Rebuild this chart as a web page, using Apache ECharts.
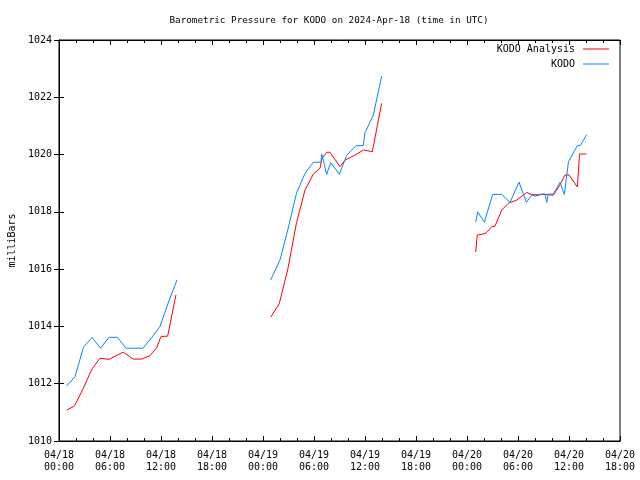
<!DOCTYPE html>
<html>
<head>
<meta charset="utf-8">
<script src="https://cdn.jsdelivr.net/npm/echarts@6/dist/echarts.min.js"></script>
<style>html,body{margin:0;padding:0;background:#fff}#c{width:640px;height:480px}</style>
</head>
<body>
<div id="c"></div>
<script>
// hours since 2024-04-18 00:00 UTC
const xTickLabels = ['04/18\n00:00','04/18\n06:00','04/18\n12:00','04/18\n18:00','04/19\n00:00','04/19\n06:00','04/19\n12:00','04/19\n18:00','04/20\n00:00','04/20\n06:00','04/20\n12:00','04/20\n18:00'];

const obsHours1 = [0.88,1.88,2.88,3.88,4.88,5.88,6.88,7.88,8.88,9.88,10.88,11.88,12.88,13.88];
const obsVals1  = [1011.92,1012.24,1013.27,1013.62,1013.24,1013.62,1013.62,1013.24,1013.24,1013.24,1013.6,1014.0,1014.85,1015.62];
const obsHours2 = [24.9,26.0,26.94,27.94,28.94,29.92,30.82,30.9,31.1,31.49,31.96,32.98,33.85,34.94,35.8,36.0,36.98,37.96];
const obsVals2  = [1015.62,1016.32,1017.4,1018.65,1019.34,1019.73,1019.73,1020.02,1019.8,1019.31,1019.72,1019.31,1019.98,1020.31,1020.31,1020.76,1021.38,1022.74];
const obsHours3 = [49.02,49.26,50.04,51.02,52.08,53.06,54.12,54.98,55.65,57.18,57.38,57.56,58.15,58.94,59.45,59.94,61.0,61.35,62.08];
const obsVals3  = [1017.64,1018.0,1017.64,1018.61,1018.61,1018.33,1019.04,1018.33,1018.6,1018.62,1018.33,1018.62,1018.62,1019.03,1018.61,1019.75,1020.32,1020.32,1020.7];

const anaHours1 = [0.9,1.82,2.86,3.85,4.82,5.88,6.86,7.56,8.74,9.73,10.7,11.49,12.0,12.78,13.76];
const anaVals1  = [1011.08,1011.22,1011.84,1012.5,1012.89,1012.85,1013.0,1013.1,1012.86,1012.86,1012.98,1013.25,1013.65,1013.66,1015.1];
const anaHours2 = [24.9,25.92,26.92,27.93,28.94,29.94,30.71,30.94,31.49,31.88,33.06,33.65,34.82,35.82,36.86,37.96];
const anaVals2  = [1014.32,1014.8,1016.0,1017.6,1018.76,1019.33,1019.52,1019.87,1020.08,1020.08,1019.58,1019.81,1019.98,1020.16,1020.1,1021.79];
const anaHours3 = [49.02,49.21,49.8,50.2,50.91,51.29,52.08,52.86,53.85,54.62,55.02,56.0,56.9,58.15,58.94,59.53,60.0,60.98,61.24,62.06];
const anaVals3  = [1016.6,1017.19,1017.22,1017.25,1017.48,1017.5,1018.06,1018.3,1018.41,1018.59,1018.68,1018.55,1018.62,1018.58,1018.94,1019.29,1019.29,1018.87,1020.02,1020.02];

const RED = '#ff0000', BLUE = '#0a84ff';
const FONT = 'DejaVu Sans Mono';
const pair = (h, v) => h.map((x, i) => [x, v[i]]);

function mk(name, color, h, v) {
  return { name, type: 'line', data: pair(h, v), showSymbol: false, symbol: 'none',
    lineStyle: { color, width: 1 }, itemStyle: { color }, animation: false, silent: true };
}

const xCommon = { type: 'value', min: 0, max: 66, interval: 6,
  axisLine: { show: true, lineStyle: { color: '#000', width: 1 } },
  axisTick: { show: true, inside: true, length: 5, lineStyle: { color: '#000' } },
  minorTick: { show: true, splitNumber: 3, length: 3, lineStyle: { color: '#000' } },
  splitLine: { show: false } };
const yCommon = { type: 'value', min: 1010, max: 1024, interval: 2,
  axisLine: { show: true, lineStyle: { color: '#000', width: 1 } },
  axisTick: { show: true, inside: true, length: 5, lineStyle: { color: '#000' } },
  splitLine: { show: false } };

const chart = echarts.init(document.getElementById('c'), null, { renderer: 'canvas' });
chart.setOption({
  backgroundColor: '#fff',
  animation: false,
  title: { text: 'Barometric Pressure for KODO on 2024-Apr-18 (time in UTC)', left: 324, textAlign: 'center', top: 11,
    textStyle: { fontFamily: FONT, fontSize: 9.3, fontWeight: 'normal', color: '#000' } },
  legend: { data: ['KODO Analysis', 'KODO'], orient: 'vertical', right: 31, top: 43, align: 'right', padding: 0,
    icon: 'rect', itemWidth: 26, itemHeight: 1, itemGap: 3,
    textStyle: { fontFamily: FONT, fontSize: 10, color: '#000', lineHeight: 12, padding: [0, 3, 0, 0] } },
  grid: { left: 59, right: 20, top: 40, bottom: 39, show: true, borderColor: '#000', borderWidth: 1,
    containLabel: false, outerBoundsMode: 'none' },
  xAxis: [
    Object.assign({}, xCommon, { position: 'bottom',
      axisLabel: { show: true, showMinLabel: true, showMaxLabel: true, margin: 8, fontFamily: FONT, fontSize: 10, color: '#000', lineHeight: 12,
        formatter: v => xTickLabels[Math.round(v / 6)] } }),
    Object.assign({}, xCommon, { position: 'top', axisLabel: { show: false } })
  ],
  yAxis: [
    Object.assign({}, yCommon, { position: 'left', name: 'milliBars', nameLocation: 'middle', nameRotate: 90, nameGap: 41,
      nameTextStyle: { fontFamily: FONT, fontSize: 10, color: '#000' },
      axisLabel: { show: true, margin: 7, fontFamily: FONT, fontSize: 10, color: '#000', formatter: v => String(v) } }),
    Object.assign({}, yCommon, { position: 'right', axisLabel: { show: false } })
  ],
  series: [
    mk('KODO Analysis', RED, anaHours1, anaVals1),
    mk('KODO Analysis', RED, anaHours2, anaVals2),
    mk('KODO Analysis', RED, anaHours3, anaVals3),
    mk('KODO', BLUE, obsHours1, obsVals1),
    mk('KODO', BLUE, obsHours2, obsVals2),
    mk('KODO', BLUE, obsHours3, obsVals3)
  ]
});
</script>
</body>
</html>
